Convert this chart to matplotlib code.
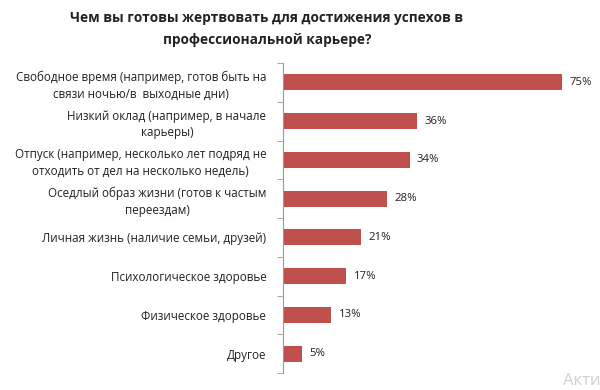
import matplotlib.pyplot as plt

plt.rcParams['font.family'] = ['Open Sans', 'DejaVu Sans']

# данные опроса
categories = [
    "Свободное время (например, готов быть на\nсвязи ночью/в  выходные дни)",
    "Низкий оклад (например, в начале\nкарьеры)",
    "Отпуск (например, несколько лет подряд не\nотходить от дел на несколько недель)",
    "Оседлый образ жизни (готов к частым\nпереездам)",
    "Личная жизнь (наличие семьи, друзей)",
    "Психологическое здоровье",
    "Физическое здоровье",
    "Другое",
]
values = [75, 36, 34, 28, 21, 17, 13, 5]
value_labels = [f"{v}%" for v in values]

title = "Чем вы готовы жертвовать для достижения успехов в\nпрофессиональной карьере?"

fig = plt.figure(figsize=(6, 3.9), dpi=100)
ax = fig.add_axes([283 / 600, 1 - 373 / 390, 307 / 600, 310 / 390])

y = list(range(len(categories)))
ax.barh(y, values, height=0.41, color="#C0504D")
ax.set_ylim(len(categories) - 0.5, -0.5)
ax.set_xlim(0, 82.5)

for yi, v, lab in zip(y, values, value_labels):
    ax.text(v + 2.0, yi, lab, va="center", ha="left", fontsize=8.2, color="#222222")

# подписи категорий
ax.set_yticks(y)
ax.set_yticklabels(categories, fontsize=8.4, color="#222222", linespacing=1.35)
for t in ax.get_yticklabels():
    t.set_multialignment("center")
ax.tick_params(axis="y", which="major", length=0, pad=12)

# засечки между категориями
ax.set_yticks([i + 0.5 for i in range(-1, len(categories))], minor=True)
ax.tick_params(axis="y", which="minor", length=4, color="#999999", direction="out")

ax.set_xticks([])
for s in ["top", "right", "bottom"]:
    ax.spines[s].set_visible(False)
ax.spines["left"].set_color("#999999")

fig.text(267 / 600, 1 - 29 / 390, title, ha="center", va="center",
         fontsize=9.8, fontweight="bold", color="#222222", linespacing=1.65)

fig.text(563 / 600, 1 - 381 / 390, "Акти", ha="left", va="center",
         fontsize=12, color="#d0d0d0")

fig.savefig("out.png", dpi=100)
